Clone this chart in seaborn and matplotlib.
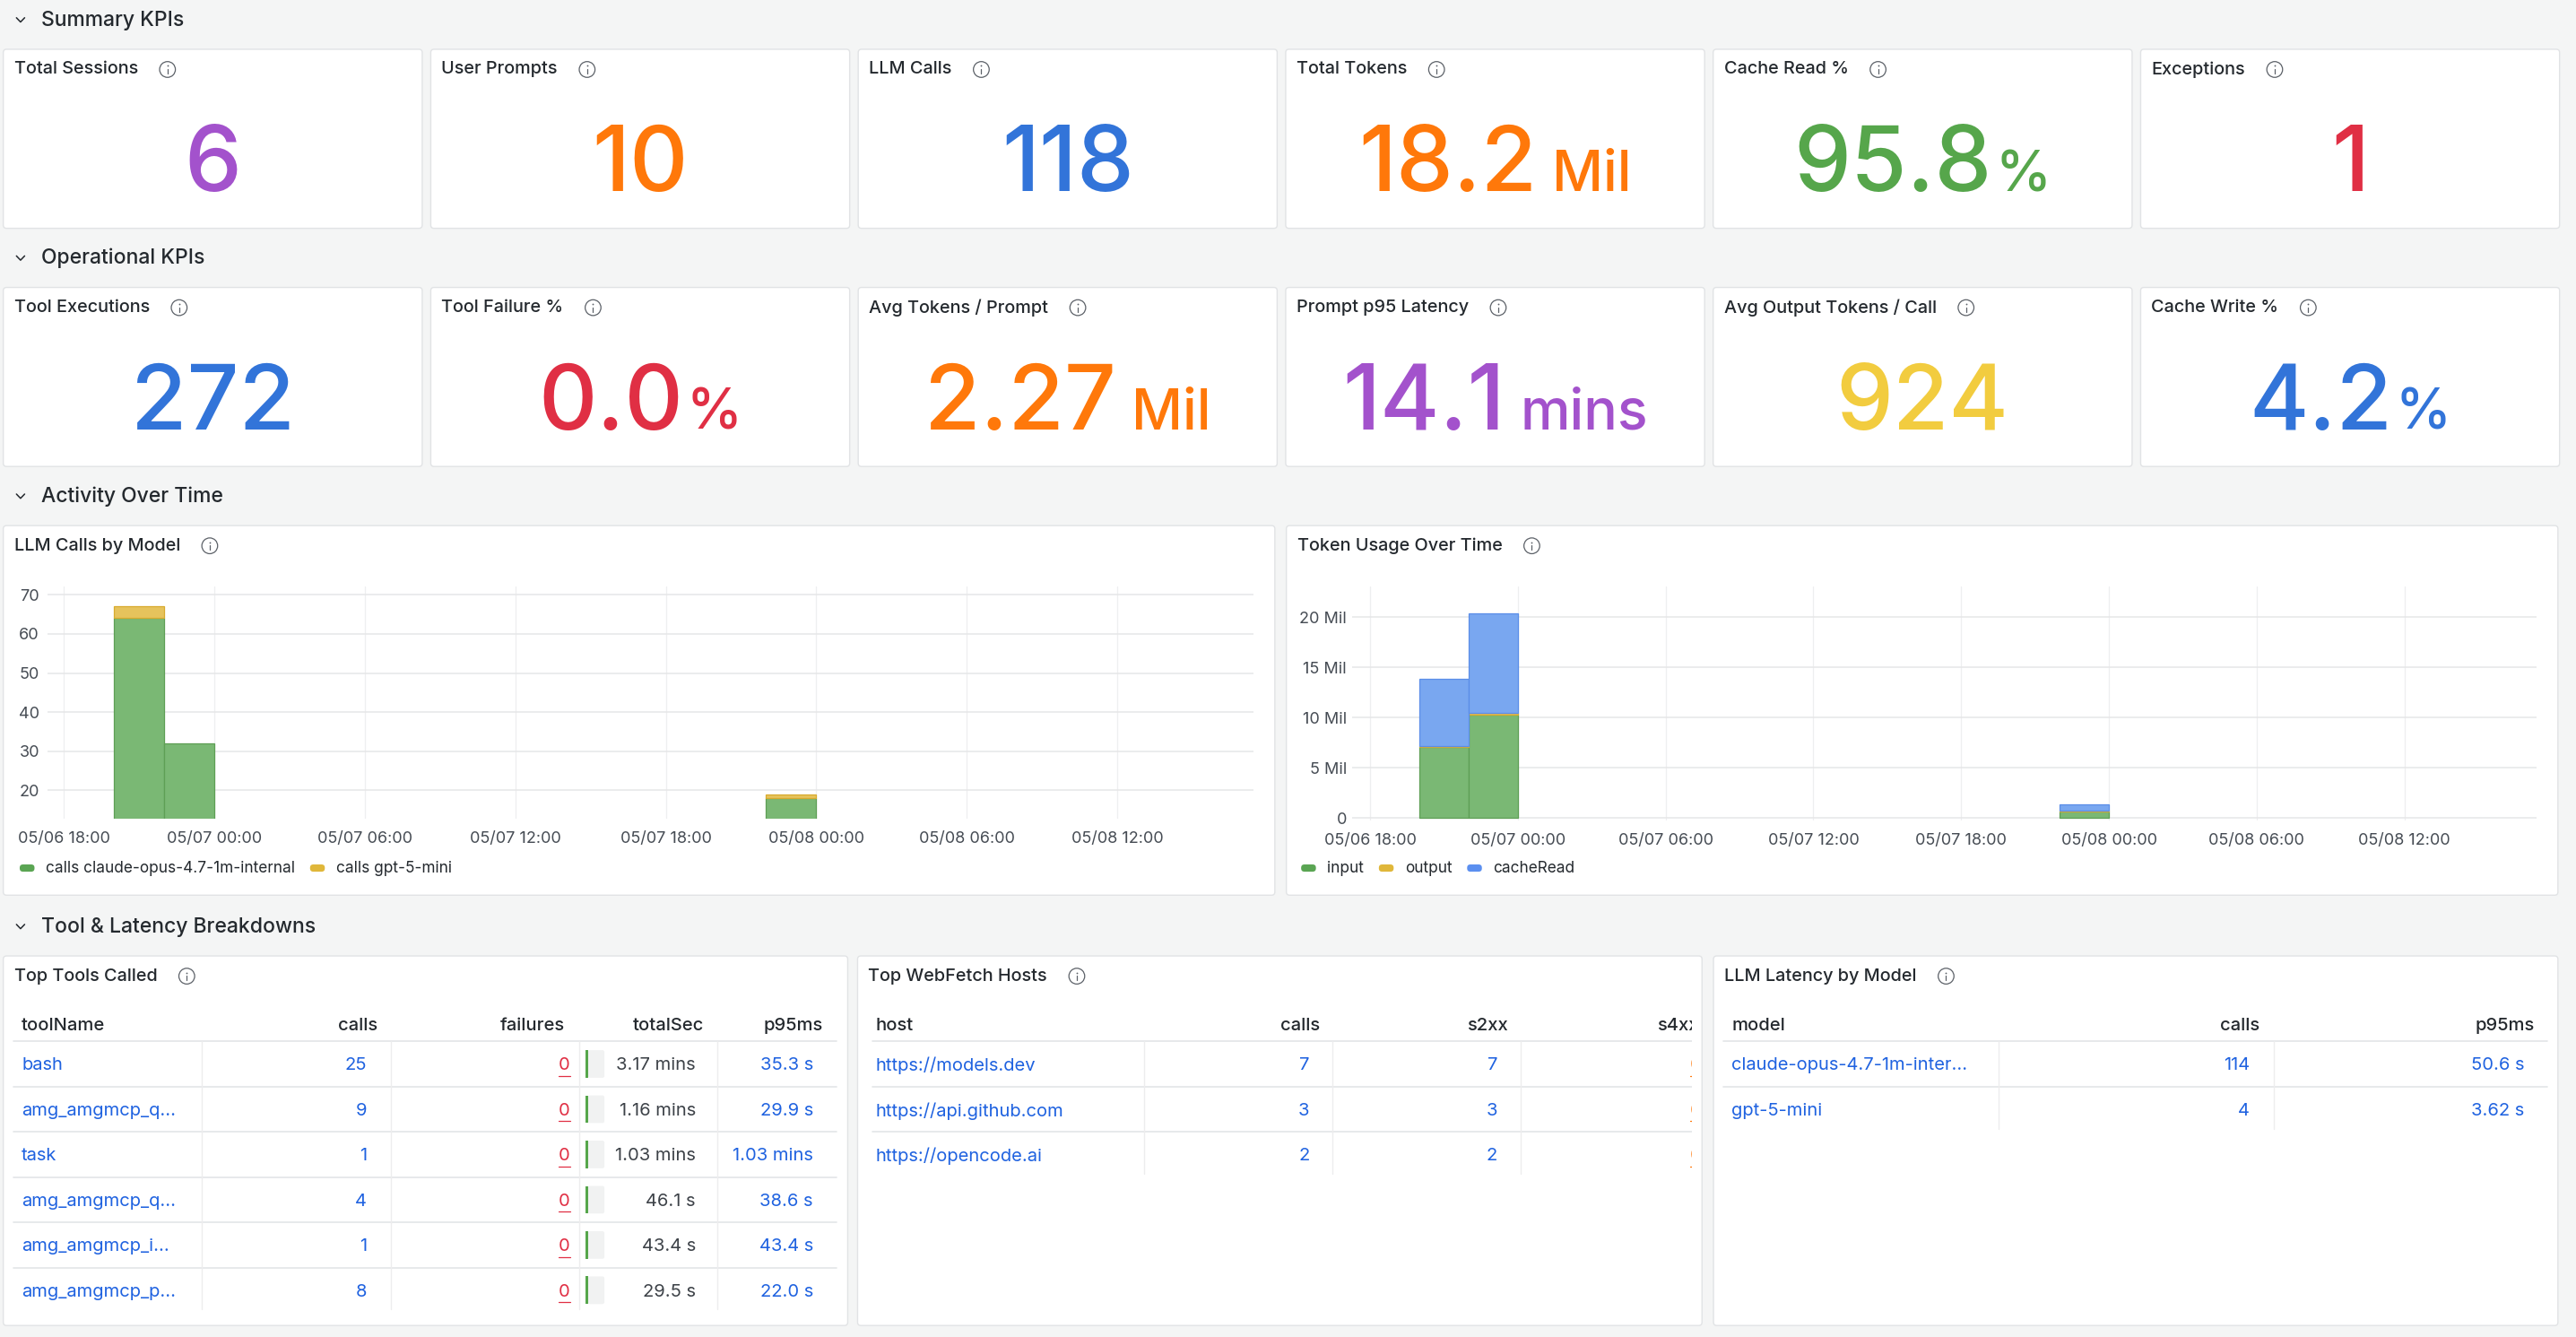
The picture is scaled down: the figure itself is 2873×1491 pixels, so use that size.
import matplotlib
matplotlib.use('Agg')
import matplotlib.pyplot as plt
import matplotlib.dates as mdates
from matplotlib.patches import FancyBboxPatch, Circle, Rectangle
from matplotlib.colors import to_rgb
import seaborn as sns
import pandas as pd
import numpy as np

# ---------------- data ----------------
summary_titles = ['Total Sessions', 'User Prompts', 'LLM Calls', 'Total Tokens', 'Cache Read %', 'Exceptions']
summary_values = [6, 10, 118, 18.2, 95.8, 1]
summary_decimals = [0, 0, 0, 1, 1, 0]
summary_units = ['', '', '', 'Mil', '%', '']

ops_titles = ['Tool Executions', 'Tool Failure %', 'Avg Tokens / Prompt', 'Prompt p95 Latency',
              'Avg Output Tokens / Call', 'Cache Write %']
ops_values = [272, 0.0, 2.27, 14.1, 924, 4.2]
ops_decimals = [0, 1, 2, 1, 0, 1]
ops_units = ['', '%', 'Mil', 'mins', '', '%']

bucket_times = ['2026-05-06 20:00', '2026-05-06 22:00', '2026-05-07 22:00']
calls_claude = [64, 32, 18]
calls_gpt = [3, 0, 1]
calls_series = ['calls claude-opus-4.7-1m-internal', 'calls gpt-5-mini']

tokens_input = [7.05e6, 10.27e6, 0.62e6]
tokens_output = [0.12e6, 0.15e6, 0.09e6]
tokens_cache_read = [6.73e6, 9.91e6, 0.63e6]
token_series = ['input', 'output', 'cacheRead']

tool_names = ['bash', 'amg_amgmcp_q…', 'task', 'amg_amgmcp_q…', 'amg_amgmcp_i…', 'amg_amgmcp_p…']
tool_calls = [25, 9, 1, 4, 1, 8]
tool_failures = [0, 0, 0, 0, 0, 0]
tool_total_sec = [190.2, 69.6, 61.8, 46.1, 43.4, 29.5]
tool_p95_ms = [35300, 29900, 61800, 38600, 43400, 22000]

hosts = ['https://models.dev', 'https://api.github.com', 'https://opencode.ai']
host_calls = [7, 3, 2]
host_s2xx = [7, 3, 2]
host_s4xx = [0, 0, 0]

models = ['claude-opus-4.7-1m-inter…', 'gpt-5-mini']
model_calls = [114, 4]
model_p95_ms = [50600, 3620]

# ---------------- style ----------------
BG = '#f4f5f5'
TEXT = '#24292e'
TEXT2 = '#3d4248'
TICK = '#464c54'
ICON = '#5c6168'
BORDER = '#e1e3e5'
LINE = '#e3e5e7'
VLINE = '#ededee'
LINK = '#1f62e0'
RED = '#e02f44'
ORANGE = '#ff780a'
PURPLE = '#a352cc'
BLUE = '#3274d9'
GREEN = '#56a64b'
YELLOW = '#f2cc3f'

summary_colors = [PURPLE, ORANGE, BLUE, ORANGE, GREEN, RED]
ops_colors = [BLUE, RED, ORANGE, PURPLE, YELLOW, BLUE]

FS_SECTION = 16.5
FS_TITLE = 14.3
FS_TICK = 13
FS_LEGEND = 12.4
FS_TABLE = 14.5

sns.set_theme(style='white')
plt.rcParams['font.family'] = ['Inter', 'DejaVu Sans']

W0, H0 = 1568, 814
fig = plt.figure(figsize=(28.73, 14.91), dpi=100, facecolor=BG)
bg = fig.add_axes([0, 0, 1, 1])
bg.set_xlim(0, W0)
bg.set_ylim(H0, 0)
bg.axis('off')
renderer = fig.canvas.get_renderer()
PX = fig.get_figwidth() * fig.dpi / W0


def txt(x, y, s, size, color=TEXT, ha='left', va='center', weight='normal', **kw):
    return bg.text(x, y, s, fontsize=size, color=color, ha=ha, va=va, fontweight=weight, **kw)


def width(t):
    return t.get_window_extent(renderer).width / PX


def info_icon(cx, cy):
    bg.add_patch(Circle((cx, cy), 4.8, fill=False, ec=ICON, lw=0.9))
    bg.plot([cx, cx], [cy - 0.3, cy + 2.6], color=ICON, lw=0.9, solid_capstyle='round')
    bg.plot([cx], [cy - 2.2], marker='o', ms=1.3, color=ICON, mec='none')


def section(y, label):
    bg.plot([10, 12.5, 15], [y - 1.5, y + 1.1, y - 1.5], color=TEXT, lw=1.1,
            solid_capstyle='round', solid_joinstyle='round')
    txt(25, y, label, FS_SECTION, weight='medium')


def panel(x0, y0, x1, y1, title):
    bg.add_patch(FancyBboxPatch((x0, y0), x1 - x0, y1 - y0, boxstyle='round,pad=0,rounding_size=2',
                                fc='white', ec=BORDER, lw=1))
    t = txt(x0 + 6.5, y0 + 12.3, title, FS_TITLE, weight='medium')
    info_icon(x0 + 6.5 + width(t) + 18, y0 + 12.3)


def stat(x0, x1, base, value, dec, unit, color):
    vt = txt(0, base, f'{value:.{dec}f}', 73, color, va='baseline', weight='medium')
    wv = width(vt)
    total = wv
    ut = None
    gap = 0
    if unit:
        ut = txt(0, base, unit, 45, color, va='baseline', weight='medium')
        gap = 2 if unit == '%' else 9
        total = wv + gap + width(ut)
    start = (x0 + x1) / 2 - total / 2
    vt.set_x(start)
    if ut is not None:
        ut.set_x(start + wv + gap)


def sub_axes(x0, y0, x1, y1):
    return fig.add_axes([x0 / W0, 1 - y1 / H0, (x1 - x0) / W0, (y1 - y0) / H0])


def legend(x, y, labels, colors):
    for lab, c in zip(labels, colors):
        bg.add_patch(FancyBboxPatch((x, y - 2.2), 9, 4.4, boxstyle='round,pad=0,rounding_size=2',
                                    fc=c, ec='none'))
        t = txt(x + 16, y, lab, FS_LEGEND, TEXT)
        x = x + 16 + width(t) + 9


def fmt_duration(sec):
    v, u = (sec / 60, 'mins') if sec >= 60 else (sec, 's')
    dec = 2 if v < 10 else 1
    return f'{v:.{dec}f} {u}'


def stacked_bars(ax, df, value_col, order, fills, edges, xlim, pad_y):
    step = pd.Timedelta(hours=2)
    times = pd.to_datetime(df['time'])
    df = df.assign(mid=times + step / 2)
    sns.histplot(data=df, x='mid', weights=value_col, hue='series', hue_order=order,
                 multiple='stack', binwidth=step / pd.Timedelta(days=1),
                 binrange=(mdates.date2num(times.min()), mdates.date2num(times.max() + step)),
                 palette=fills, alpha=1, linewidth=0.9, legend=False, ax=ax)
    for p in list(ax.patches):
        if p.get_height() == 0:
            p.remove()
            continue
        fc = np.array(p.get_facecolor()[:3])
        for name, c in fills.items():
            if np.allclose(fc, to_rgb(c), atol=0.02):
                p.set_edgecolor(edges[name])
    ax.set_facecolor('none')
    for s in ax.spines.values():
        s.set_visible(False)
    ax.xaxis.set_major_locator(mdates.HourLocator(byhour=[0, 6, 12, 18]))
    ax.xaxis.set_major_formatter(mdates.DateFormatter('%m/%d %H:%M'))
    ax.set_xlim(mdates.date2num(pd.Timestamp(xlim[0])), mdates.date2num(pd.Timestamp(xlim[1])))
    ax.set_axisbelow(True)
    ax.grid(axis='y', color='#e6e7e8', lw=1.1)
    ax.grid(axis='x', color='#eeeff0', lw=0.9)
    ax.tick_params(axis='both', length=0, labelsize=FS_TICK, labelcolor=TICK)
    ax.tick_params(axis='x', pad=10)
    ax.tick_params(axis='y', pad=pad_y)
    ax.set_xlabel('')
    ax.set_ylabel('')


# ---------------- KPI rows ----------------
section(12.3, 'Summary KPIs')
for i in range(6):
    x0 = 2 + i * 260.2
    panel(x0, 30, x0 + 255, 139, summary_titles[i])
    stat(x0, x0 + 255, 116.5, summary_values[i], summary_decimals[i], summary_units[i], summary_colors[i])

section(157.3, 'Operational KPIs')
for i in range(6):
    x0 = 2 + i * 260.2
    panel(x0, 175, x0 + 255, 284, ops_titles[i])
    stat(x0, x0 + 255, 261.5, ops_values[i], ops_decimals[i], ops_units[i], ops_colors[i])

# ---------------- activity charts ----------------
section(302.3, 'Activity Over Time')
panel(2, 320, 776, 545, 'LLM Calls by Model')
panel(783, 320, 1557, 545, 'Token Usage Over Time')

calls_df = pd.DataFrame({
    'time': pd.to_datetime(bucket_times * 2),
    'series': [calls_series[0]] * 3 + [calls_series[1]] * 3,
    'calls': calls_claude + calls_gpt,
})
ax1 = sub_axes(29, 357, 763, 498.6)
stacked_bars(ax1, calls_df, 'calls', [calls_series[1], calls_series[0]],
             {calls_series[0]: '#7ab874', calls_series[1]: '#e6c35c'},
             {calls_series[0]: '#5e9f55', calls_series[1]: '#d8ab2e'},
             ('2026-05-06 17:21', '2026-05-08 17:26'), 6.6)
ax1.set_yticks([20, 30, 40, 50, 60, 70])
ax1.set_ylim(12.7, 72.14)
legend(12, 528.5, calls_series, ['#5aa553', '#e0b73a'])

tokens_df = pd.DataFrame({
    'time': pd.to_datetime(bucket_times * 3),
    'series': [token_series[0]] * 3 + [token_series[1]] * 3 + [token_series[2]] * 3,
    'tokens': tokens_input + tokens_output + tokens_cache_read,
})
ax2 = sub_axes(823, 357, 1544, 499.5)
stacked_bars(ax2, tokens_df, 'tokens', [token_series[2], token_series[1], token_series[0]],
             {'input': '#7ab874', 'output': '#e6c35c', 'cacheRead': '#79a7f0'},
             {'input': '#5e9f55', 'output': '#d8ab2e', 'cacheRead': '#5b8ee8'},
             ('2026-05-06 17:16', '2026-05-08 17:22'), 4.4)
ax2.set_yticks([0, 5e6, 10e6, 15e6, 20e6])
ax2.yaxis.set_major_formatter(plt.FuncFormatter(lambda v, _: '0' if v == 0 else f'{v / 1e6:g} Mil'))
ax2.set_ylim(-0.245e6, 23.06e6)
legend(792, 528.5, token_series, ['#5aa553', '#e0b73a', '#5b8ff0'])

# ---------------- tables ----------------
section(564.3, 'Tool & Latency Breakdowns')
panel(2, 582, 516, 807, 'Top Tools Called')
panel(522, 582, 1036, 807, 'Top WebFetch Hosts')
panel(1043, 582, 1557, 807, 'LLM Latency by Model')

HEAD_Y = 624.5
HEAD_LINE = 634
ROW_H = 27.55


def table(lx0, lx1, seps, headers, head_x, cell_x, aligns, columns, colors, underline, clip=None):
    n = len(columns[0])
    arts = []
    arts += bg.plot([lx0, lx1], [HEAD_LINE, HEAD_LINE], color=LINE, lw=1.2)
    for i in range(1, n):
        yy = HEAD_LINE + i * ROW_H
        arts += bg.plot([lx0, lx1], [yy, yy], color=LINE, lw=1.2)
    for sx in seps:
        arts += bg.plot([sx, sx], [HEAD_LINE, HEAD_LINE + n * ROW_H - 2], color=VLINE, lw=1)
    for j, h in enumerate(headers):
        arts.append(txt(head_x[j], HEAD_Y, h, FS_TABLE, TEXT, ha=aligns[j], weight='medium'))
    for j, col in enumerate(columns):
        for i, s in enumerate(col):
            yc = HEAD_LINE + (i + 0.5) * ROW_H + 1
            t = txt(cell_x[j], yc, s, FS_TABLE, colors[j], ha=aligns[j])
            arts.append(t)
            if underline[j]:
                w = width(t)
                xl = cell_x[j] - w if aligns[j] == 'right' else cell_x[j]
                arts += bg.plot([xl, xl + w], [yc + 6.2, yc + 6.2], color=colors[j], lw=0.9)
    if clip is not None:
        rect = Rectangle((clip[0], clip[1]), clip[2] - clip[0], clip[3] - clip[1], transform=bg.transData)
        for a in arts:
            a.set_clip_on(True)
            a.set_clip_path(rect)


table(8.3, 509, [123, 237.8, 352.6, 436.6],
      ['toolName', 'calls', 'failures', 'totalSec', 'p95ms'],
      [13.2, 229.8, 344, 428.3, 501],
      [13.2, 223.3, 347, 423.4, 495],
      ['left', 'right', 'right', 'right', 'right'],
      [tool_names, [str(v) for v in tool_calls], [str(v) for v in tool_failures],
       [fmt_duration(v) for v in tool_total_sec], [fmt_duration(v / 1000) for v in tool_p95_ms]],
      [LINK, LINK, RED, TEXT2, LINK],
      [False, False, True, False, False])

# small bar gauge in the totalSec cells
for i in range(len(tool_names)):
    yc = HEAD_LINE + (i + 0.5) * ROW_H
    bg.add_patch(FancyBboxPatch((357.9, yc - 8.4), 10, 16.8, boxstyle='round,pad=0,rounding_size=1.2',
                                fc='#f1f2f2', ec='none'))
    bg.add_patch(Rectangle((356.6, yc - 8.4), 1.4, 16.8, fc=GREEN, ec='none'))

table(531, 1040, [696.6, 811, 925.4],
      ['host', 'calls', 's2xx', 's4xx'],
      [533, 803.7, 918, 1034],
      [533, 797, 911.5, 1035.5],
      ['left', 'right', 'right', 'right'],
      [hosts, [str(v) for v in host_calls], [str(v) for v in host_s2xx], [str(v) for v in host_s4xx]],
      [LINK, LINK, LINK, ORANGE],
      [False, False, False, True],
      clip=(523, 600, 1029.7, 806))

table(1049, 1550.7, [1216.6, 1384],
      ['model', 'calls', 'p95ms'],
      [1054, 1375.3, 1542.6],
      [1054, 1369.3, 1536.5],
      ['left', 'right', 'right'],
      [models, [str(v) for v in model_calls], [fmt_duration(v / 1000) for v in model_p95_ms]],
      [LINK, LINK, LINK],
      [False, False, False])

fig.savefig('out.png', dpi=100, facecolor=BG)
